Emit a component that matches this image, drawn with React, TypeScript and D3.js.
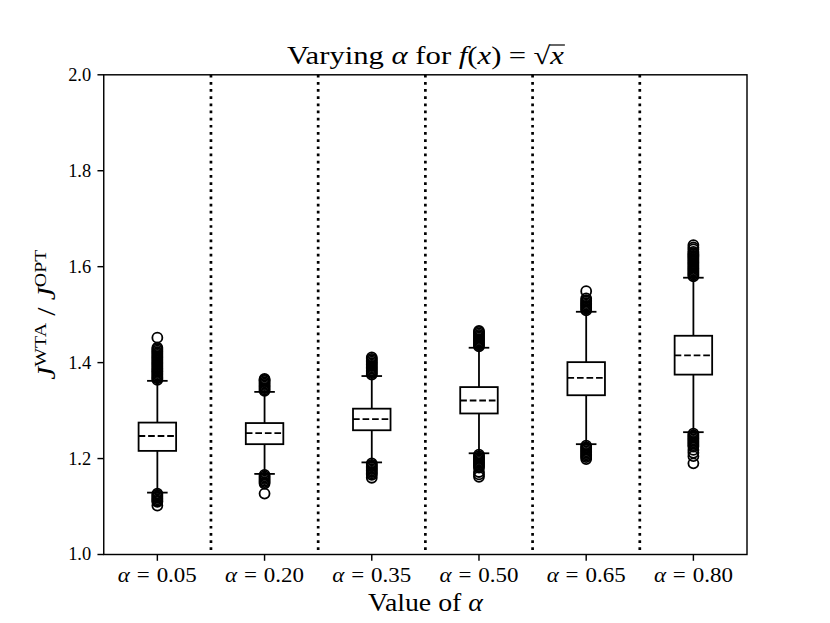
import { useEffect, useRef } from 'react'
import * as d3 from 'd3'

// alpha values on the x axis
const alphas = ['0.05', '0.20', '0.35', '0.50', '0.65', '0.80']

// box statistics
const q1 = [1.216, 1.230, 1.259, 1.294, 1.332, 1.375]
const medians = [1.247, 1.253, 1.282, 1.321, 1.368, 1.415]
const q3 = [1.275, 1.274, 1.304, 1.349, 1.401, 1.456]
const whiskerLow = [1.129, 1.168, 1.192, 1.211, 1.230, 1.255]
const whiskerHigh = [1.362, 1.339, 1.372, 1.431, 1.506, 1.577]

// outliers (dense clusters above / below the whiskers)
const fliersHigh = [
  [1.364, 1.367, 1.369, 1.372, 1.375, 1.378, 1.381, 1.383, 1.386, 1.389, 1.392, 1.395, 1.398, 1.401, 1.404, 1.407, 1.410, 1.413, 1.416, 1.419, 1.422, 1.425, 1.428, 1.431, 1.452],
  [1.341, 1.344, 1.347, 1.350, 1.353, 1.356, 1.359, 1.362, 1.364, 1.366],
  [1.375, 1.378, 1.381, 1.384, 1.387, 1.390, 1.393, 1.396, 1.399, 1.402, 1.405, 1.408, 1.411],
  [1.434, 1.437, 1.440, 1.443, 1.446, 1.449, 1.452, 1.455, 1.458, 1.461, 1.464, 1.466],
  [1.509, 1.512, 1.515, 1.518, 1.521, 1.524, 1.527, 1.530, 1.534, 1.549],
  [1.580, 1.583, 1.586, 1.589, 1.592, 1.595, 1.598, 1.601, 1.604, 1.607, 1.610, 1.613, 1.616, 1.619, 1.622, 1.625, 1.628, 1.631, 1.636, 1.640, 1.645],
]
const fliersLow = [
  [1.127, 1.124, 1.121, 1.118, 1.115, 1.112, 1.110, 1.102],
  [1.166, 1.163, 1.160, 1.157, 1.154, 1.151, 1.148, 1.127],
  [1.190, 1.187, 1.184, 1.181, 1.178, 1.175, 1.172, 1.169, 1.166, 1.160],
  [1.208, 1.205, 1.202, 1.199, 1.196, 1.193, 1.190, 1.187, 1.184, 1.181, 1.172, 1.167, 1.162],
  [1.227, 1.224, 1.221, 1.218, 1.215, 1.212, 1.209, 1.206, 1.203, 1.199],
  [1.252, 1.249, 1.246, 1.243, 1.240, 1.237, 1.234, 1.231, 1.228, 1.225, 1.218, 1.212, 1.205, 1.190],
]

const yTicks = [1.0, 1.2, 1.4, 1.6, 1.8, 2.0]

const FONT = '"Liberation Serif", "DejaVu Serif", serif'

export default function App() {
  const svgRef = useRef<SVGSVGElement>(null)

  useEffect(() => {
    if (!svgRef.current) return
    const svg = d3.select(svgRef.current)
    svg.selectAll('*').remove()

    const width = 830
    const height = 623
    const left = 103.75
    const right = 747
    const top = 74.8
    const bottom = 554.5

    svg.attr('viewBox', `0 0 ${width} ${height}`)
    svg.append('rect').attr('width', width).attr('height', height).attr('fill', '#fff')

    const positions = alphas.map((_, i) => i + 1)
    const x = d3.scaleLinear().domain([0.5, 6.5]).range([left, right])
    const y = d3.scaleLinear().domain([1, 2]).range([bottom, top])

    const lw = 1.8
    const boxW = x(1.35) - x(1)
    const capW = boxW / 2

    // dotted separators
    svg.selectAll('.sep')
      .data(positions.slice(0, -1).map(p => p + 0.5))
      .enter().append('line')
      .attr('x1', d => x(d)).attr('x2', d => x(d))
      .attr('y1', top).attr('y2', bottom)
      .attr('stroke', '#000')
      .attr('stroke-width', 2.7)
      .attr('stroke-dasharray', '2.7,4.46')

    const g = svg.append('g')

    positions.forEach((p, i) => {
      const cx = x(p)
      // whiskers
      g.append('line')
        .attr('x1', cx).attr('x2', cx)
        .attr('y1', y(q1[i])).attr('y2', y(whiskerLow[i]))
        .attr('stroke', '#000').attr('stroke-width', lw)
      g.append('line')
        .attr('x1', cx).attr('x2', cx)
        .attr('y1', y(q3[i])).attr('y2', y(whiskerHigh[i]))
        .attr('stroke', '#000').attr('stroke-width', lw)
      // caps
      ;[whiskerLow[i], whiskerHigh[i]].forEach(v => {
        g.append('line')
          .attr('x1', cx - capW / 2).attr('x2', cx + capW / 2)
          .attr('y1', y(v)).attr('y2', y(v))
          .attr('stroke', '#000').attr('stroke-width', lw)
          .attr('stroke-linecap', 'square')
      })
      // box
      g.append('rect')
        .attr('x', cx - boxW / 2)
        .attr('y', y(q3[i]))
        .attr('width', boxW)
        .attr('height', y(q1[i]) - y(q3[i]))
        .attr('fill', 'none')
        .attr('stroke', '#000').attr('stroke-width', lw)
      // median (dashed)
      g.append('line')
        .attr('x1', cx - boxW / 2).attr('x2', cx + boxW / 2)
        .attr('y1', y(medians[i])).attr('y2', y(medians[i]))
        .attr('stroke', '#000').attr('stroke-width', lw)
        .attr('stroke-dasharray', '6.66,2.88')
      // fliers
      g.selectAll(`.flier${i}`)
        .data([...fliersHigh[i], ...fliersLow[i]])
        .enter().append('circle')
        .attr('cx', cx)
        .attr('cy', d => y(d))
        .attr('r', 5)
        .attr('fill', 'none')
        .attr('stroke', '#000')
        .attr('stroke-width', lw)
    })

    // frame
    svg.append('rect')
      .attr('x', left).attr('y', top)
      .attr('width', right - left).attr('height', bottom - top)
      .attr('fill', 'none').attr('stroke', '#000').attr('stroke-width', 1.44)

    // y axis
    const yAxis = svg.append('g')
    yTicks.forEach(t => {
      yAxis.append('line')
        .attr('x1', left - 6.3).attr('x2', left)
        .attr('y1', y(t)).attr('y2', y(t))
        .attr('stroke', '#000').attr('stroke-width', 1.44)
      yAxis.append('text')
        .attr('x', left - 12.6)
        .attr('y', y(t))
        .attr('dy', '0.33em')
        .attr('text-anchor', 'end')
        .style('font-family', FONT)
        .style('font-size', '18px')
        .attr('textLength', 23)
        .attr('lengthAdjust', 'spacingAndGlyphs')
        .text(d3.format('.1f')(t))
    })

    // x axis
    const xAxis = svg.append('g')
    positions.forEach((p, i) => {
      xAxis.append('line')
        .attr('x1', x(p)).attr('x2', x(p))
        .attr('y1', bottom).attr('y2', bottom + 6.3)
        .attr('stroke', '#000').attr('stroke-width', 1.44)
      const t = xAxis.append('text')
        .attr('x', x(p))
        .attr('y', 582)
        .attr('text-anchor', 'middle')
        .style('font-family', FONT)
        .style('font-size', '20px')
        .style('white-space', 'pre')
        .attr('textLength', 79)
        .attr('lengthAdjust', 'spacingAndGlyphs')
      t.append('tspan').style('font-style', 'italic').text('α')
      t.append('tspan').attr('dx', 6).text('=')
      t.append('tspan').attr('dx', 6).text(alphas[i])
    })

    // x label
    const xl = svg.append('text')
      .attr('x', (left + right) / 2)
      .attr('y', 611)
      .attr('text-anchor', 'middle')
      .style('font-family', FONT)
      .style('font-size', '25px')
      .style('white-space', 'pre')
      .attr('textLength', 115)
      .attr('lengthAdjust', 'spacingAndGlyphs')
    xl.append('tspan').text('Value of ')
    xl.append('tspan').style('font-style', 'italic').text('α')

    // y label
    const yl = svg.append('text')
      .attr('transform', `translate(55,${(top + bottom) / 2}) rotate(-90)`)
      .attr('text-anchor', 'middle')
      .style('font-family', FONT)
      .style('font-size', '25px')
      .style('white-space', 'pre')
      .attr('textLength', 130)
      .attr('lengthAdjust', 'spacingAndGlyphs')
    yl.append('tspan').style('font-style', 'italic').text('J')
    yl.append('tspan').attr('dy', -9).style('font-size', '17px').text('WTA')
    yl.append('tspan').attr('dy', 9).text(' / ')
    yl.append('tspan').style('font-style', 'italic').text('J')
    yl.append('tspan').attr('dy', -9).style('font-size', '17px').text('OPT')

    // title
    const title = svg.append('text')
      .attr('x', (left + right) / 2)
      .attr('y', 64)
      .attr('text-anchor', 'middle')
      .style('font-family', FONT)
      .style('font-size', '25px')
      .style('white-space', 'pre')
      .attr('textLength', 277)
      .attr('lengthAdjust', 'spacingAndGlyphs')
    title.append('tspan').text('Varying ')
    title.append('tspan').style('font-style', 'italic').text('α')
    title.append('tspan').text(' for ')
    title.append('tspan').style('font-style', 'italic').text('f')
    title.append('tspan').text('(')
    title.append('tspan').style('font-style', 'italic').text('x')
    title.append('tspan').text(')')
    title.append('tspan').attr('dx', 6).text('=')
    const rad = title.append('tspan').attr('dx', 6).text('√')
    const rx = title.append('tspan').style('font-style', 'italic').text('x')
    const rb = (rad.node() as SVGTSpanElement).getBBox()
    const xb = (rx.node() as SVGTSpanElement).getBBox()
    const barY = rb.y + 3
    svg.append('line')
      .attr('x1', rb.x + rb.width - 1).attr('x2', xb.x + xb.width + 1)
      .attr('y1', barY).attr('y2', barY)
      .attr('stroke', '#000').attr('stroke-width', 1.2)
  }, [])

  return (
    <svg
      ref={svgRef}
      width={830}
      height={623}
      style={{ position: 'absolute', left: 0, top: 0, display: 'block' }}
    />
  )
}
